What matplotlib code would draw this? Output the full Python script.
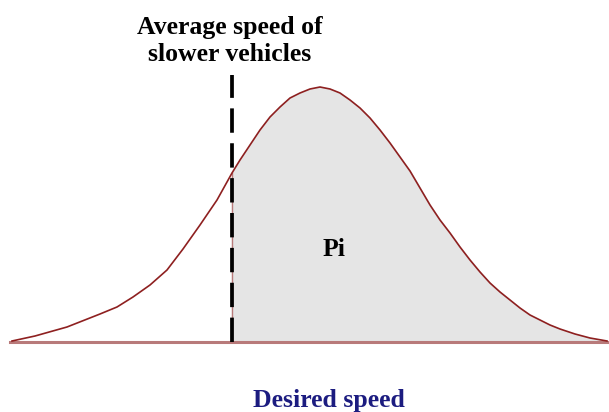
import numpy as np
import matplotlib.pyplot as plt

# curve (x = speed in px units, y = height above baseline)
speed = [12, 35, 67, 100, 117, 133, 150, 167, 183, 200, 217, 232, 240, 250, 260,
         270, 280, 290, 300, 310, 320, 330, 340, 350, 360, 370, 380, 390, 400,
         410, 420, 430, 440, 450, 460, 470, 480, 490, 500, 510, 520, 530, 540,
         550, 560, 575, 590, 607]
height = [1, 6, 15, 28, 35, 45, 57, 72, 93, 117, 142, 169, 182, 197, 212,
          225, 235, 244, 249, 253, 255, 253, 249, 242, 234, 224, 212, 199, 185,
          171, 154, 137, 122, 109, 95, 82, 70, 59, 50, 42, 34, 27, 22,
          17, 13, 8, 4, 1]
slow_avg = 232

speed = np.array(speed)
height = np.array(height)

fig = plt.figure(figsize=(6.09, 4.12), dpi=100)
ax = fig.add_axes([0, 0, 1, 1])
ax.set_xlim(0, 609)
ax.set_ylim(-70, 342)
ax.axis('off')

serif = ['Liberation Serif', 'DejaVu Serif']

# shaded area right of the slower-vehicle speed
mask = speed >= slow_avg
ax.fill_between(speed[mask], 0, height[mask], color='#e5e5e5', zorder=1)

ax.plot([10, 609], [0, 0], color='#b87a7a', lw=2.2, zorder=2)
ax.plot(speed, height, color='#8e2020', lw=1.2, zorder=3)
ax.plot([slow_avg, slow_avg], [0, height[speed == slow_avg][0]], color='#b87a7a', lw=1, zorder=2)
ax.plot([slow_avg, slow_avg], [0, 267], color='black', lw=2.7,
        dashes=(6.5, 2.8), zorder=4)

ax.text(230, 301, 'Average speed of\nslower vehicles', ha='center', va='center',
        fontsize=18.5, fontweight='bold', family=serif, linespacing=1.18)
ax.text(334, 92, 'Pi', ha='center', va='center', fontsize=18.5,
        fontweight='bold', family=serif)
ax.text(329, -59, 'Desired speed', ha='center', va='center', fontsize=18.5,
        fontweight='bold', family=serif, color='#1c1c80')

fig.savefig('out.png', dpi=100)
